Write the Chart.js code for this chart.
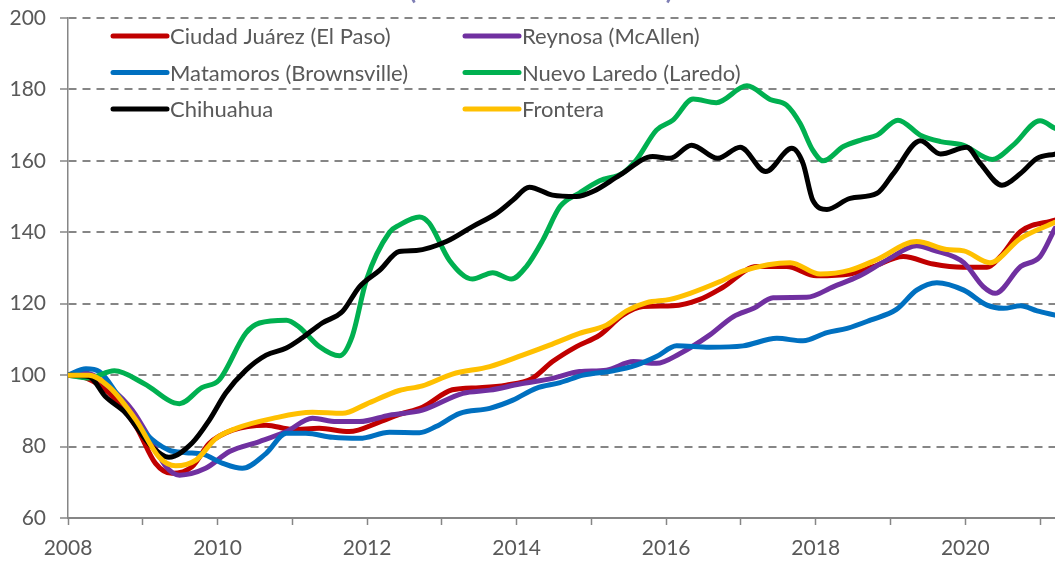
<!DOCTYPE html>
<html>
<head>
<meta charset="utf-8">
<script src="https://cdn.jsdelivr.net/npm/chart.js@4.4.0/dist/chart.umd.min.js"></script>
<style>
  html, body { margin: 0; padding: 0; background: #fff; }
  #wrap { width: 1055px; height: 561px; position: relative; }
</style>
</head>
<body>
<div id="wrap"><canvas id="chart"></canvas></div>
<script>
// tick labels
const yTicks = [60, 80, 100, 120, 140, 160, 180, 200];
const xLabelYears = [2008, 2010, 2012, 2014, 2016, 2018, 2020];
const titleText = "(enero de 2008 = 100)";

// series (decimal year, index value)
const juarezT = [2008.00, 2008.24, 2008.55, 2008.91, 2009.17, 2009.39, 2009.66, 2009.89, 2010.20, 2010.65, 2011.00, 2011.36, 2011.76, 2012.17, 2012.43, 2012.74, 2013.14, 2013.50, 2013.86, 2014.21, 2014.48, 2014.80, 2015.11, 2015.42, 2015.69, 2016.09, 2016.45, 2016.76, 2017.21, 2017.61, 2018.01, 2018.46, 2018.77, 2019.17, 2019.57, 2019.97, 2020.29, 2020.47, 2020.74, 2021.20];
const juarezV = [100, 99.2, 95, 85.6, 75.3, 72.5, 74.4, 80.9, 84.6, 86, 84.8, 85.1, 84.2, 86.9, 89, 91, 95.9, 96.5, 97.2, 99.1, 103.8, 108, 111.2, 116.8, 119.2, 119.4, 121.2, 124.6, 130.4, 130.4, 127.8, 128.3, 130.4, 133.2, 131.1, 130.2, 130.2, 133.2, 140.2, 143.4];

const reynosaT = [2008.00, 2008.24, 2008.55, 2008.86, 2009.13, 2009.31, 2009.49, 2009.84, 2010.16, 2010.56, 2010.92, 2011.27, 2011.59, 2011.90, 2012.30, 2012.74, 2013.28, 2013.64, 2014.04, 2014.48, 2014.84, 2015.20, 2015.56, 2015.87, 2016.18, 2016.58, 2016.90, 2017.17, 2017.43, 2017.88, 2018.24, 2018.59, 2018.95, 2019.35, 2019.57, 2019.98, 2020.24, 2020.40, 2020.74, 2021.00, 2021.20];
const reynosaV = [100, 100.5, 96.7, 90.2, 80.9, 74.4, 72, 73.9, 78.6, 81.4, 84.2, 87.9, 87, 87, 88.8, 90.2, 94.9, 95.8, 97.5, 99.1, 101, 101.4, 103.8, 103.3, 106, 111.2, 116.4, 118.7, 121.7, 121.8, 124.8, 127.8, 132.2, 136.2, 135, 131.5, 124.8, 122.9, 130.4, 133.2, 141.1];

const matamorosT = [2008.00, 2008.24, 2008.42, 2008.68, 2009.04, 2009.35, 2009.58, 2009.80, 2010.07, 2010.33, 2010.65, 2010.92, 2011.18, 2011.54, 2011.90, 2012.30, 2012.70, 2012.92, 2013.24, 2013.64, 2013.95, 2014.26, 2014.58, 2014.89, 2015.29, 2015.60, 2015.87, 2016.14, 2016.58, 2017.03, 2017.48, 2017.83, 2018.15, 2018.42, 2018.73, 2019.08, 2019.35, 2019.62, 2019.98, 2020.29, 2020.51, 2020.74, 2020.96, 2021.20];
const matamorosV = [100, 101.8, 101, 94, 83.7, 79, 78.3, 77.9, 75.3, 73.9, 78.1, 83.7, 83.7, 82.6, 82.3, 84, 83.9, 85.6, 89.3, 90.7, 93, 96.3, 97.9, 100, 101.2, 102.8, 105.2, 108.2, 107.8, 108.2, 110.3, 109.6, 111.9, 113.1, 115.4, 118.4, 123.8, 125.9, 123.8, 119.6, 118.7, 119.4, 118, 116.8];

const laredoT = [2008.00, 2008.28, 2008.62, 2009.02, 2009.49, 2009.79, 2010.02, 2010.38, 2010.56, 2010.92, 2011.09, 2011.36, 2011.63, 2011.80, 2011.99, 2012.30, 2012.43, 2012.70, 2012.83, 2013.10, 2013.41, 2013.68, 2013.93, 2014.13, 2014.35, 2014.58, 2014.84, 2015.11, 2015.42, 2015.60, 2015.87, 2016.09, 2016.36, 2016.67, 2017.08, 2017.39, 2017.61, 2017.79, 2017.96, 2018.10, 2018.37, 2018.63, 2018.82, 2019.10, 2019.40, 2019.67, 2019.97, 2020.36, 2020.64, 2021.00, 2021.20];
const laredoV = [100, 99.2, 101.2, 97.6, 92, 96.5, 98.6, 111.8, 114.6, 115.4, 113.5, 108, 105.4, 110.8, 126.6, 140, 142, 144.3, 142.6, 132.2, 126.9, 128.7, 126.9, 130.4, 137.8, 147.2, 151, 154.4, 156.6, 160.2, 168.6, 171.4, 177.3, 176.3, 181, 177.2, 175.6, 170.5, 163, 160, 164, 166, 167.2, 171.4, 167.2, 165.4, 164.4, 160.4, 164.4, 171.2, 169.1];

const chihuahuaT = [2008.00, 2008.28, 2008.50, 2008.77, 2009.12, 2009.35, 2009.66, 2009.89, 2010.11, 2010.38, 2010.65, 2010.92, 2011.13, 2011.40, 2011.67, 2011.90, 2012.17, 2012.43, 2012.66, 2013.06, 2013.41, 2013.73, 2013.95, 2014.17, 2014.48, 2014.80, 2015.02, 2015.38, 2015.82, 2016.05, 2016.34, 2016.69, 2016.99, 2017.33, 2017.68, 2017.83, 2017.96, 2018.15, 2018.46, 2018.82, 2019.04, 2019.40, 2019.67, 2020.02, 2020.20, 2020.49, 2020.74, 2020.96, 2021.20];
const chihuahuaV = [100, 99.6, 94, 89.4, 80, 77, 81, 87.4, 95, 101.4, 105.6, 107.6, 110.4, 114.6, 117.8, 124.8, 129.4, 134.6, 134.9, 137.4, 141.6, 145.3, 149, 152.6, 150.4, 150, 151.4, 156, 161.2, 160.7, 164.4, 160.7, 163.8, 157, 163.5, 159.3, 149, 146.4, 149.5, 150.9, 156.5, 165.6, 161.9, 163.8, 159.3, 153.2, 156.5, 160.7, 161.9];

const fronteraT = [2008.00, 2008.28, 2008.55, 2008.91, 2009.22, 2009.44, 2009.71, 2009.98, 2010.25, 2010.74, 2011.27, 2011.67, 2011.99, 2012.43, 2012.74, 2013.14, 2013.64, 2014.08, 2014.44, 2014.84, 2015.20, 2015.47, 2015.74, 2016.05, 2016.32, 2016.72, 2017.03, 2017.66, 2018.06, 2018.46, 2018.82, 2019.35, 2019.75, 2019.98, 2020.33, 2020.74, 2021.20];
const fronteraV = [100, 100, 96.7, 87.4, 77, 74.6, 76.2, 82.3, 85.1, 87.9, 89.6, 89.3, 91.9, 95.7, 97, 100.3, 102.4, 105.6, 108.4, 111.7, 114, 118, 120.3, 121.2, 122.9, 126.2, 129.2, 131.5, 128.3, 129.4, 132.4, 137.4, 135.2, 134.8, 131.5, 138.3, 142.8];

const series = [
  { label: "Ciudad Juárez (El Paso)", t: juarezT, v: juarezV, color: "#C00000" },
  { label: "Reynosa (McAllen)", t: reynosaT, v: reynosaV, color: "#7030A0" },
  { label: "Matamoros (Brownsville)", t: matamorosT, v: matamorosV, color: "#0070C0" },
  { label: "Nuevo Laredo (Laredo)", t: laredoT, v: laredoV, color: "#00B050" },
  { label: "Chihuahua", t: chihuahuaT, v: chihuahuaV, color: "#000000" },
  { label: "Frontera", t: fronteraT, v: fronteraV, color: "#FFC000" },
];

const FONT = "Lato";
const TEXT = "#595959";
const AXIS = "#868686";

// legend drawn inside the plot, two columns like the original
const insideLegend = {
  id: "insideLegend",
  afterDatasetsDraw(chart) {
    const ctx = chart.ctx;
    const cols = [113, 465];
    const rows = [36, 72.5, 109];
    ctx.save();
    ctx.font = "22px " + FONT;
    ctx.textBaseline = "middle";
    ctx.textAlign = "left";
    series.forEach((s, i) => {
      const x = cols[i % 2];
      const y = rows[Math.floor(i / 2)];
      ctx.strokeStyle = s.color;
      ctx.lineWidth = 5;
      ctx.lineCap = "round";
      ctx.beginPath();
      ctx.moveTo(x, y);
      ctx.lineTo(x + 54, y);
      ctx.stroke();
      ctx.fillStyle = TEXT;
      ctx.fillText(s.label, x + 57, y + 1);
    });
    ctx.restore();
  },
};

// the title sits mostly above the picture, only its bottom shows
const cutTitle = {
  id: "cutTitle",
  afterDraw(chart) {
    const ctx = chart.ctx;
    ctx.save();
    ctx.font = "bold 27px " + FONT;
    ctx.fillStyle = "#7F7FB5";
    ctx.textAlign = "center";
    ctx.textBaseline = "alphabetic";
    ctx.fillText(titleText, 541, -1);
    ctx.restore();
  },
};

const ctx = document.getElementById("chart").getContext("2d");
const myChart = new Chart(ctx, {
  type: "line",
  data: {
    datasets: series.map((s, i) => ({
      label: s.label,
      data: s.t.map((t, j) => ({ x: t, y: s.v[j] })),
      borderColor: s.color,
      backgroundColor: s.color,
      borderWidth: 5,
      pointRadius: 0,
      cubicInterpolationMode: "monotone",
      borderCapStyle: "round",
      borderJoinStyle: "round",
      fill: false,
      order: series.length - i,
    })),
  },
  options: {
    responsive: true,
    maintainAspectRatio: false,
    animation: false,
    layout: { padding: { top: 18, left: 0, right: 0, bottom: 0 } },
    plugins: {
      legend: { display: false },
      tooltip: { enabled: false },
    },
    scales: {
      x: {
        type: "linear",
        min: 2008,
        max: 2021.2,
        afterFit(scale) {
          scale.height = 43;
          scale.paddingLeft = 0;
          scale.paddingRight = 0;
        },
        ticks: {
          stepSize: 1,
          includeBounds: false,
          autoSkip: false,
          maxRotation: 0,
          padding: 11,
          color: TEXT,
          font: { family: FONT, size: 21 },
          callback: (v) => (xLabelYears.includes(v) ? String(v) : ""),
        },
        grid: {
          drawOnChartArea: false,
          drawTicks: true,
          tickLength: 7,
          tickColor: AXIS,
          tickWidth: 1.5,
        },
        border: { display: true, color: AXIS, width: 2 },
      },
      y: {
        min: 60,
        max: 200,
        afterFit(scale) {
          scale.width = 68;
          scale.paddingTop = 0;
          scale.paddingBottom = 0;
        },
        afterBuildTicks(scale) {
          scale.ticks = yTicks.map((v) => ({ value: v }));
        },
        ticks: {
          padding: 14,
          color: TEXT,
          font: { family: FONT, size: 21 },
        },
        grid: {
          color: AXIS,
          lineWidth: 2,
          drawTicks: true,
          tickLength: 8,
          tickColor: AXIS,
          tickWidth: 1.5,
        },
        border: { display: true, color: AXIS, width: 1.5, dash: [8, 6] },
      },
    },
  },
  plugins: [insideLegend, cutTitle],
});
</script>
</body>
</html>
